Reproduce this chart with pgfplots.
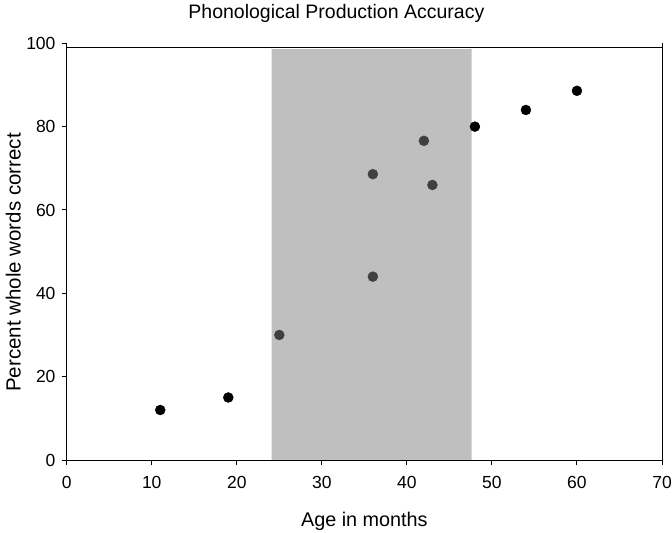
\documentclass[border=0pt]{standalone}
\usepackage{pgfplots}
\pgfplotsset{compat=1.18}
\usepackage{fontspec}
\setmainfont{Liberation Sans}
\definecolor{shade}{RGB}{191,191,191}
\definecolor{darkdot}{RGB}{64,64,64}

\begin{document}
\begin{tikzpicture}
\begin{axis}[
  scale only axis,
  width=595.3pt, height=416.7pt,
  xmin=0, xmax=70,
  ymin=0, ymax=100,
  axis x line*=bottom,
  axis y line*=left,
  axis line style={line width=1pt},
  axis on top,
  clip=false,
  tick align=outside,
  major tick length=5pt,
  tick style={line width=1pt, black},
  xtick={0,10,...,70},
  ytick={0,20,...,100},
  /pgf/number format/assume math mode=true,
  tick label style={font=\fontsize{17.5}{20}\selectfont},
  xticklabel style={yshift=-7.3pt},
  yticklabel style={xshift=-2.7pt},
  xlabel={Age in months},
  ylabel={Percent whole words correct},
  xlabel style={font=\fontsize{19.8}{22}\selectfont, at={(axis description cs:0.5,0)}, anchor=base, yshift=-66.7pt},
  ylabel style={font=\fontsize{20.5}{22}\selectfont, at={(axis description cs:-0.0773,0.474)}, anchor=base},
]
% age window (shaded)
\addplot[fill=shade, draw=none] coordinates {(24.1,0) (24.1,98.6) (47.6,98.6) (47.6,0)} \closedcycle;

% frame: right spine and top line
\addplot[black, line width=1pt] coordinates {(70,0) (70,100)};
\addplot[black, line width=1pt] coordinates {(0,99) (70,99)};

% children outside the window
\addplot[only marks, mark=*, mark size=5pt, black] coordinates {
  (11,12) (19,15) (48,80) (54,84) (60,88.6)
};

% children inside the window
\addplot[only marks, mark=*, mark size=5pt, darkdot] coordinates {
  (25,30) (36,44) (36,68.6) (42,76.6) (43,66)
};

\node[anchor=base, font=\fontsize{19.5}{22}\selectfont] at (rel axis cs:0.453,1) [yshift=25pt] {Phonological Production Accuracy};
\coordinate (sw) at (rel axis cs:0,0);
\coordinate (ne) at (rel axis cs:1,1);
\end{axis}
\pgfresetboundingbox
\path ([xshift=-66.7pt,yshift=-72pt]sw) rectangle ([xshift=10pt,yshift=43.3pt]ne);
\end{tikzpicture}
\end{document}
